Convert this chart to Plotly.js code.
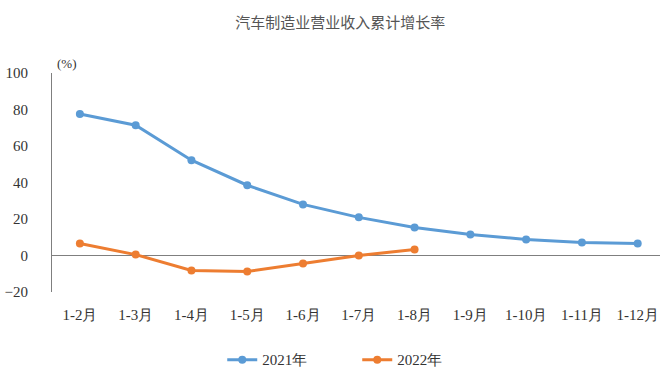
<!DOCTYPE html>
<html><head><meta charset="utf-8">
<script src="https://cdn.plot.ly/plotly-3.0.1.min.js"></script>
<style>body{margin:0;background:#fff}#c{width:667px;height:376px}</style>
</head><body><div id="c"></div>
<script>
const categories = ["1-2月","1-3月","1-4月","1-5月","1-6月","1-7月","1-8月","1-9月","1-10月","1-11月","1-12月"];
const y2021 = [77.5, 71.4, 52.2, 38.5, 28.0, 20.9, 15.4, 11.5, 8.8, 7.1, 6.6];
const y2022 = [6.6, 0.5, -8.2, -8.8, -4.4, 0.0, 3.3];
const yTicks = [-20, 0, 20, 40, 60, 80, 100];
const fontFam = "Liberation Serif";
const traces = [
  {x: categories, y: y2021, name: "2021年", type: "scatter", mode: "lines+markers",
   line: {color: "#5B9BD5", width: 3}, marker: {color: "#5B9BD5", size: 8}},
  {x: categories.slice(0, y2022.length), y: y2022, name: "2022年", type: "scatter", mode: "lines+markers",
   line: {color: "#ED7D31", width: 3}, marker: {color: "#ED7D31", size: 8}}
];
const layout = {
  width: 667, height: 376,
  margin: {l: 52, r: 7, t: 73, b: 84, autoexpand: false},
  paper_bgcolor: "#fff", plot_bgcolor: "#fff",
  font: {family: fontFam, size: 15, color: "#333"},
  title: {text: "汽车制造业营业收入累计增长率", x: 0.51, xanchor: "center", y: 0.94, yanchor: "middle",
          font: {family: "Noto Sans CJK SC", size: 15, color: "#555"}},
  xaxis: {type: "category", range: [-0.5, 10.4], showgrid: false, showline: false, zeroline: false, automargin: false,
          ticks: "", ticklabelstandoff: 12, tickfont: {family: fontFam, size: 15, color: "#333"}},
  yaxis: {range: [-20, 100], tickvals: yTicks, showgrid: false, showline: true, linecolor: "#7f7f7f", linewidth: 1,
          automargin: false,
          zeroline: true, zerolinecolor: "#7f7f7f", zerolinewidth: 1, ticks: "", ticklabelstandoff: 20,
          tickfont: {family: fontFam, size: 15, color: "#333"}},
  showlegend: true,
  legend: {orientation: "h", x: 0.28, xanchor: "left", y: -0.31, yanchor: "middle",
           entrywidth: 90, entrywidthmode: "pixels",
           font: {family: fontFam, size: 15, color: "#333"}, itemwidth: 30, tracegroupgap: 0},
  annotations: [{text: "(%)", xref: "paper", yref: "paper", x: 0.005, y: 1.0, xanchor: "left", yanchor: "bottom",
                 showarrow: false, font: {family: fontFam, size: 13, color: "#333"}}]
};
Plotly.newPlot("c", traces, layout, {displayModeBar: false, staticPlot: true});
</script></body></html>
